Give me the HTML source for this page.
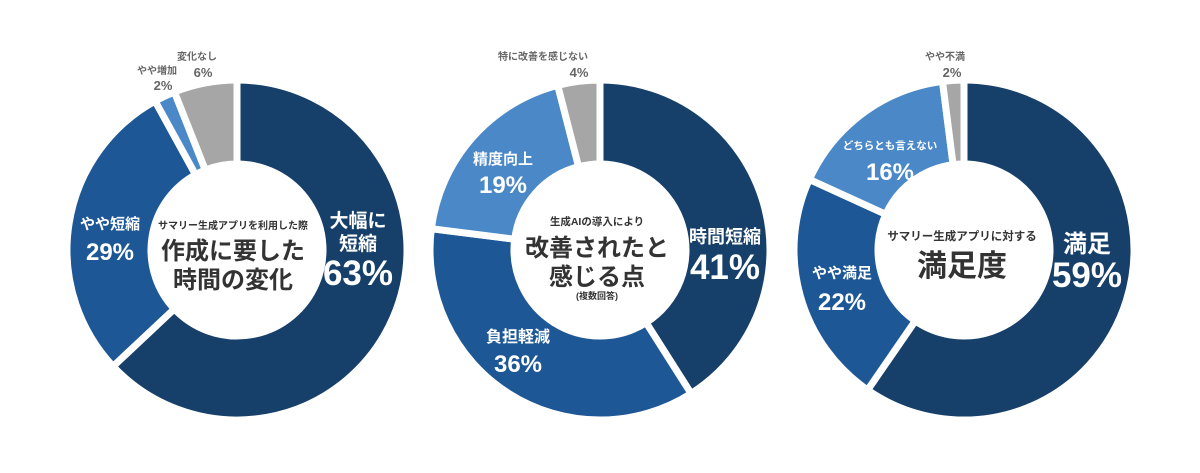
<!DOCTYPE html>
<html lang="ja"><head><meta charset="utf-8">
<style>
html,body{margin:0;padding:0;background:#fff;width:1200px;height:473px;overflow:hidden}
svg{display:block}
text{font-family:"Liberation Sans","Noto Sans CJK JP",sans-serif;font-weight:bold;text-anchor:middle}
.w{fill:#fff}.d{fill:#333}.g{fill:#666}
</style></head><body>
<svg id="chart" width="1200" height="473" viewBox="0 0 1200 473">
<g id="segs"></g>
<g>
<text class="d" x="233" y="229" font-size="10">サマリー生成アプリを利用した際</text>
<text class="d" x="233" y="259" font-size="24">作成に要した</text>
<text class="d" x="233" y="288" font-size="24">時間の変化</text>
<text class="w" x="358" y="227" font-size="19">大幅に</text>
<text class="w" x="358" y="250" font-size="19">短縮</text>
<text class="w" x="358" y="285" font-size="35">63%</text>
<text class="w" x="110" y="229" font-size="15">やや短縮</text>
<text class="w" x="110" y="260" font-size="24">29%</text>
<text class="g" x="157" y="74" font-size="10">やや増加</text>
<text class="g" x="163" y="90" font-size="13">2%</text>
<text class="g" x="197" y="60" font-size="10">変化なし</text>
<text class="g" x="203" y="77" font-size="13">6%</text>
</g>
<g>
<text class="d" x="597" y="225" font-size="10.5">生成AIの導入により</text>
<text class="d" x="597" y="256" font-size="24">改善されたと</text>
<text class="d" x="597" y="285" font-size="24">感じる点</text>
<text class="d" x="597" y="299" font-size="9">(複数回答)</text>
<text class="w" x="725" y="243" font-size="18">時間短縮</text>
<text class="w" x="725" y="279" font-size="35">41%</text>
<text class="w" x="518" y="342" font-size="16">負担軽減</text>
<text class="w" x="518" y="372" font-size="24">36%</text>
<text class="w" x="503" y="164" font-size="15">精度向上</text>
<text class="w" x="503" y="193" font-size="24">19%</text>
<text class="g" x="543" y="60" font-size="10">特に改善を感じない</text>
<text class="g" x="579" y="77" font-size="13">4%</text>
</g>
<g>
<text class="d" x="962" y="240" font-size="11.5">サマリー生成アプリに対する</text>
<text class="d" x="962" y="276" font-size="30">満足度</text>
<text class="w" x="1087" y="252" font-size="24">満足</text>
<text class="w" x="1087" y="287" font-size="35">59%</text>
<text class="w" x="842" y="278" font-size="15">やや満足</text>
<text class="w" x="842" y="310" font-size="24">22%</text>
<text class="w" x="890" y="149" font-size="10.5">どちらとも言えない</text>
<text class="w" x="890" y="180" font-size="24">16%</text>
<text class="g" x="945" y="60" font-size="10">やや不満</text>
<text class="g" x="952" y="77" font-size="13">2%</text>
</g>
</svg>
<script>
const chart1Categories = ["大幅に短縮","やや短縮","やや増加","変化なし"];
const chart1Values = [63, 29, 2, 6];
const chart2Categories = ["時間短縮","負担軽減","精度向上","特に改善を感じない"];
const chart2Values = [41, 36, 19, 4];
const chart3Categories = ["満足","やや満足","どちらとも言えない","やや不満"];
const chart3Values = [59, 22, 16, 2];

const COLORS = ["#163f6a", "#1d5796", "#4a88c8", "#a6a6a6"];
const NS = "http://www.w3.org/2000/svg";
const segs = document.getElementById("segs");

function pt(cx, cy, r, a) { return [cx + r * Math.sin(a), cy - r * Math.cos(a)]; }
function drawDonut(cats, vals, cx, cy, R, r, key) {
  const total = vals.reduce((s, v) => s + v, 0);
  let a0 = 0;
  vals.forEach((v, i) => {
    const a1 = a0 + v / total * 2 * Math.PI;
    const large = (a1 - a0) > Math.PI ? 1 : 0;
    const p1 = pt(cx, cy, R, a0), p2 = pt(cx, cy, R, a1), p3 = pt(cx, cy, r, a1), p4 = pt(cx, cy, r, a0);
    const d = `M${p1[0]},${p1[1]} A${R},${R} 0 ${large} 1 ${p2[0]},${p2[1]} L${p3[0]},${p3[1]} A${r},${r} 0 ${large} 0 ${p4[0]},${p4[1]} Z`;
    const path = document.createElementNS(NS, "path");
    path.setAttribute("d", d);
    path.setAttribute("fill", COLORS[i]);
    path.setAttribute("stroke", "#fff");
    path.setAttribute("stroke-width", "7");
    path.setAttribute("stroke-linejoin", "miter");
    
    
    const t = document.createElementNS(NS, "title");
    t.textContent = cats[i] + " " + v + "%";
    path.appendChild(t);
    segs.appendChild(path);
    a0 = a1;
  });
}
drawDonut(chart1Categories, chart1Values, 237, 250, 170, 86, "chart1");
drawDonut(chart2Categories, chart2Values, 600, 250, 170, 86, "chart2");
drawDonut(chart3Categories, chart3Values, 964, 250, 170, 86, "chart3");
</script>
</body></html>
